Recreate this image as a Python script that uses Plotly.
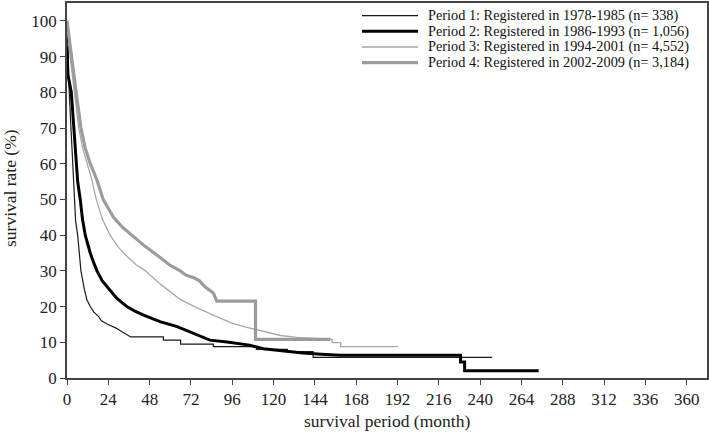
import plotly.graph_objects as go

# Kaplan-Meier curves (month, survival %)
P1_X = [0, 0.5, 1.3, 2.3, 3.3, 4.2, 5, 6.2, 8.1, 10, 11.5, 13.5, 15.5, 18.4, 20, 23, 26, 28.8, 31, 34.6, 37,
        56, 56, 66, 66, 85, 85, 110, 110, 128, 128, 143, 143, 247]
P1_Y = [100, 90, 80, 70, 60, 50, 44, 40, 30, 25, 22, 20, 18.5, 17.2, 16, 15.2, 14.6, 13.9, 13.2, 12.2, 11.5,
        11.5, 10.6, 10.6, 9.5, 9.5, 8.8, 8.8, 8.0, 8.0, 7.4, 7.4, 5.8, 5.8]

P2_X = [0, 0.5, 2.5, 3.9, 5.2, 6.2, 7.7, 9, 10.6, 12, 13.5, 15.5, 17.4, 20.5, 24.2, 29, 34.8, 39.5, 44.5,
        54, 64, 73.5, 83, 93, 106, 114, 124, 137, 150, 159, 228.6, 228.6, 231, 231, 274]
P2_Y = [93, 85, 80, 70, 60, 55, 50, 44.5, 40, 37.2, 35, 32.3, 30, 27.2, 25, 22.3, 20, 18.7, 17.6,
        15.8, 14.4, 12.5, 10.6, 10.1, 9.2, 8.2, 7.6, 7.0, 6.6, 6.4, 6.4, 4.5, 4.5, 2.05, 2.05]

P3_X = [0, 1.8, 4.3, 6.8, 9, 11.6, 14.5, 17, 20.5, 25, 30, 35, 40, 45.5, 55, 65.8, 74, 85, 95, 104.5,
        114.5, 124, 133.6, 145, 154, 154, 159, 159, 192.4]
P3_Y = [100, 90, 80, 70, 64.5, 60, 55.4, 50, 44.5, 40, 36.5, 34, 31.8, 30, 26, 22, 20, 17.6, 15.5, 14.2,
        13.0, 11.9, 11.4, 11.0, 10.8, 9.9, 9.9, 8.8, 8.8]

P4_X = [0, 2.5, 5.3, 8.1, 10.5, 13.5, 17.4, 21, 27, 32, 37.7, 45, 52, 60, 65.8, 69, 74, 77, 80, 85, 87,
        109.5, 109.5, 153]
P4_Y = [100, 90, 80, 70, 64.5, 60, 55.4, 50, 45, 42.3, 40, 37, 34.5, 31.5, 30, 28.8, 28, 27.2, 25.6, 23.8,
        21.5, 21.5, 10.8, 10.8]

LABELS = ["Period 1: Registered in 1978-1985 (n= 338)",
          "Period 2: Registered in 1986-1993 (n= 1,056)",
          "Period 3: Registered in 1994-2001 (n= 4,552)",
          "Period 4: Registered in 2002-2009 (n= 3,184)"]
COLORS = ["#1a1a1a", "#000000", "#a8a8a8", "#9c9c9c"]
WIDTHS = [1.2, 3, 1.3, 3.2]

X_TICKS = list(range(0, 361, 24))
Y_TICKS = list(range(0, 101, 10))

FONT = "Liberation Serif, Times New Roman, serif"

fig = go.Figure()
for xs, ys, lab, col, w in zip([P1_X, P2_X, P3_X, P4_X], [P1_Y, P2_Y, P3_Y, P4_Y], LABELS, COLORS, WIDTHS):
    fig.add_trace(go.Scatter(x=xs, y=ys, mode="lines", name=lab,
                             line=dict(color=col, width=w), showlegend=False))

# pixel geometry of the plot box
W, H, L, T, B_AX = 709, 432, 67, 3, 378
pw, ph = W - L - 2, B_AX - T


def px(x):
    return (x - L) / pw


def py(y):
    return (B_AX - y) / ph


# hand-made legend so the line samples are long like the original
for i, (lab, col, w) in enumerate(zip(LABELS, COLORS, WIDTHS)):
    yy = py(15.7 + i * 15.65)
    fig.add_shape(type="line", xref="paper", yref="paper",
                  x0=px(362), x1=px(418), y0=yy, y1=yy,
                  line=dict(color=col, width=w))
    fig.add_annotation(xref="paper", yref="paper", x=px(426), y=yy, text=lab,
                       showarrow=False, xanchor="left", yanchor="middle",
                       font=dict(family=FONT, size=14.3, color="#111"))

# axis titles as annotations for exact placement
fig.add_annotation(xref="paper", yref="paper", x=px(387), y=py(421), text="survival period (month)",
                   showarrow=False, xanchor="center", yanchor="middle",
                   font=dict(family=FONT, size=17.5, color="#222"))
fig.add_annotation(xref="paper", yref="paper", x=px(10), y=py(188), text="survival rate (%)",
                   showarrow=False, xanchor="center", yanchor="middle", textangle=-90,
                   font=dict(family=FONT, size=17.5, color="#222"))

axis_common = dict(showline=True, mirror=True, linecolor="#444", linewidth=1.5,
                   ticks="outside", ticklen=5, tickwidth=1.3, tickcolor="#444",
                   showgrid=False, zeroline=False, automargin=False,
                   tickfont=dict(family=FONT, size=17, color="#222"))

fig.update_xaxes(range=[0, 371.8], tickvals=X_TICKS, **axis_common)
fig.update_yaxes(range=[0, 105], tickvals=Y_TICKS, **axis_common)

fig.update_layout(width=W, height=H, margin=dict(l=L, r=2, t=T, b=H - B_AX),
                  plot_bgcolor="white", paper_bgcolor="white", showlegend=False)

# drop the browser's default body margin so the figure sits at the window corner
fig.write_html("out.html", config={"displayModeBar": False},
               post_script="document.body.style.margin='0px';")
